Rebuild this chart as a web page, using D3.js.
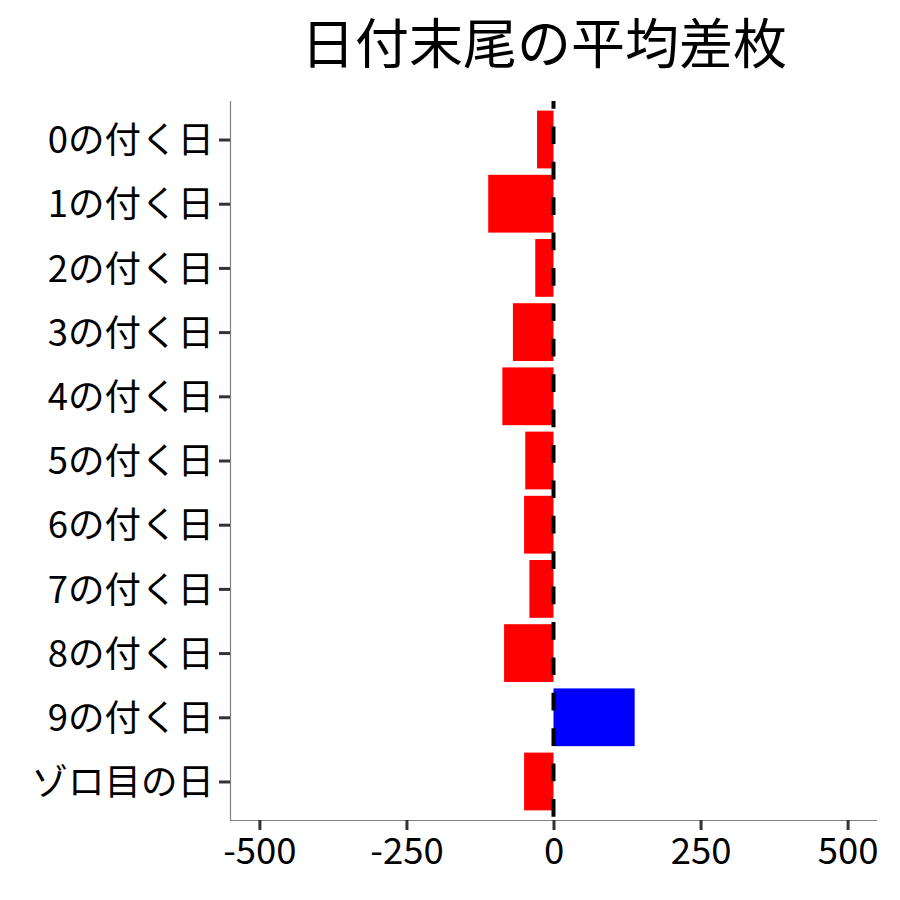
<!DOCTYPE html>
<html>
<head>
<meta charset="utf-8">
<script src="https://cdn.jsdelivr.net/npm/d3@7"></script>
<style>
  body { margin: 0; background: #fff; }
  text { font-family: "Noto Sans CJK JP", "Noto Sans", sans-serif; }
</style>
</head>
<body>
<div id="chart"></div>
<script>
const title = '日付末尾の平均差枚'
const categories = ['0の付く日', '1の付く日', '2の付く日', '3の付く日', '4の付く日',
  '5の付く日', '6の付く日', '7の付く日', '8の付く日', '9の付く日', 'ゾロ目の日']
const values = [-28, -111, -31, -69, -87, -48, -50, -41, -84, 138, -50]
const xTicks = [-500, -250, 0, 250, 500]

const width = 900
const height = 900
const margin = { left: 230, right: 23, top: 101, bottom: 80 }

const data = categories.map((c, i) => ({ cat: c, value: values[i] }))

const svg = d3.select('#chart')
  .append('svg')
  .attr('width', width)
  .attr('height', height)

const x = d3.scaleLinear()
  .domain([-550, 550])
  .range([margin.left, width - margin.right])

// discrete axis with 0.6 expansion each side, like ggplot
const step = (height - margin.bottom - margin.top) / (categories.length - 1 + 1.2)
const y = d3.scalePoint()
  .domain(categories)
  .range([margin.top + 0.6 * step, height - margin.bottom - 0.6 * step])

const barH = step * 0.9

svg.append('g')
  .attr('class', 'bars')
  .selectAll('rect')
  .data(data)
  .join('rect')
  .attr('x', d => x(Math.min(0, d.value)))
  .attr('width', d => Math.abs(x(d.value) - x(0)))
  .attr('y', d => y(d.cat) - barH / 2)
  .attr('height', barH)
  .attr('fill', d => d.value < 0 ? '#FF0000' : '#0000FF')

// dashed zero line
svg.append('line')
  .attr('x1', x(0))
  .attr('x2', x(0))
  .attr('y1', margin.top)
  .attr('y2', height - margin.bottom)
  .attr('stroke', '#000')
  .attr('stroke-width', 4)
  .attr('stroke-dasharray', '17.7 17.7')
  .attr('stroke-dashoffset', 10)

// axes
const xAxis = svg.append('g')
  .attr('transform', `translate(0,${height - margin.bottom})`)
  .call(d3.axisBottom(x).tickValues(xTicks).tickSize(10).tickPadding(8).tickFormat(d => String(d)))

const yAxis = svg.append('g')
  .attr('transform', `translate(${margin.left},0)`)
  .call(d3.axisLeft(y).tickSize(11).tickPadding(5))

;[xAxis, yAxis].forEach(g => {
  g.select('.domain').attr('stroke', '#808080').attr('stroke-width', 1.2)
  g.selectAll('.tick line').attr('stroke', '#333').attr('stroke-width', 3)
  g.selectAll('.tick text')
    .attr('fill', '#000')
    .attr('font-size', 36.5)
    .attr('font-family', '"Noto Sans CJK JP", sans-serif')
})
xAxis.select('.domain').attr('d', `M${margin.left},0.5H${width - margin.right}`)
yAxis.select('.domain').attr('d', `M0.5,${margin.top}V${height - margin.bottom}`)
xAxis.selectAll('.tick text').attr('dy', '0.71em')
yAxis.selectAll('.tick text').attr('dy', '0.36em')

svg.append('text')
  .attr('x', 544)
  .attr('y', 64)
  .attr('text-anchor', 'middle')
  .attr('font-size', 54)
  .attr('fill', '#000')
  .text(title)
</script>
</body>
</html>
